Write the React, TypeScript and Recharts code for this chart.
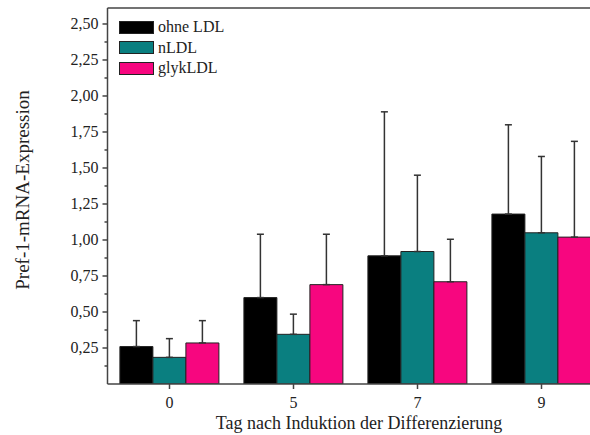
import React from 'react';
import { BarChart, Bar, XAxis, YAxis, ErrorBar, ReferenceLine, Legend } from 'recharts';

const days = ['0', '5', '7', '9'];
const ohneLDL = [0.26, 0.6, 0.89, 1.18];
const ohneLDLErr = [0.18, 0.44, 1.0, 0.62];
const nLDL = [0.185, 0.345, 0.92, 1.05];
const nLDLErr = [0.13, 0.14, 0.53, 0.53];
const glykLDL = [0.285, 0.69, 0.71, 1.02];
const glykLDLErr = [0.155, 0.35, 0.295, 0.665];
const yTicks = [0.125, 0.25, 0.375, 0.5, 0.625, 0.75, 0.875, 1.0, 1.125, 1.25, 1.375, 1.5, 1.625, 1.75, 1.875, 2.0, 2.125, 2.25, 2.375, 2.5];
const Y_MAX = 2.611;

const series = [
  { key: 'ohne', name: 'ohne LDL', color: '#000000' },
  { key: 'nldl', name: 'nLDL', color: '#0a7f80' },
  { key: 'glyk', name: 'glykLDL', color: '#f7067f' },
];

const data = days.map((d, i) => ({
  day: d,
  ohne: ohneLDL[i],
  ohneErr: [0, ohneLDLErr[i]],
  nldl: nLDL[i],
  nldlErr: [0, nLDLErr[i]],
  glyk: glykLDL[i],
  glykErr: [0, glykLDLErr[i]],
}));

const FONT = '"Liberation Serif", "Times New Roman", serif';
const AXIS = '#444';
const TEXT = '#222';

const YTick = (props: any) => {
  const { x, y, payload } = props;
  const q = payload.value / 0.25;
  const major = Math.abs(q - Math.round(q)) < 1e-6;
  return (
    <g>
      <line x1={x - (major ? 5 : 3)} x2={x} y1={y} y2={y} stroke={AXIS} strokeWidth={1.5} />
      {major && (
        <text x={x - 9} y={y + 5.5} textAnchor="end" style={{ fontFamily: FONT, fontSize: 16 }} fill={TEXT}>
          {payload.value.toFixed(2).replace('.', ',')}
        </text>
      )}
    </g>
  );
};

const XTick = (props: any) => {
  const { x, y, payload } = props;
  return (
    <g>
      <line x1={x} x2={x} y1={y} y2={y + 5} stroke={AXIS} strokeWidth={1.5} />
      <text x={x} y={y + 24} textAnchor="middle" style={{ fontFamily: FONT, fontSize: 16 }} fill={TEXT}>
        {payload.value}
      </text>
    </g>
  );
};

const LegendContent = () => (
  <div style={{ fontFamily: FONT, fontSize: 16, color: TEXT, lineHeight: 1 }}>
    {series.map((s) => (
      <div key={s.key} style={{ display: 'flex', alignItems: 'center', height: 20.5 }}>
        <div style={{ width: 33, height: 11, background: s.color, border: '1px solid #222', marginRight: 4 }} />
        <span>{s.name}</span>
      </div>
    ))}
  </div>
);

export default function App() {
  return (
    <div style={{ position: 'absolute', left: 0, top: 0, width: 590, height: 435, overflow: 'hidden', background: '#fff' }}>
      <BarChart
        width={610}
        height={435}
        data={data}
        margin={{ top: 8, right: 6.5, left: 0, bottom: 0 }}
        barCategoryGap="10%"
        barGap={0}
      >
        <XAxis
          dataKey="day"
          height={51}
          tick={<XTick />}
          tickLine={false}
          tickSize={0}
          tickMargin={0}
          axisLine={{ stroke: AXIS, strokeWidth: 1.5 }}
          label={{ value: 'Tag nach Induktion der Differenzierung', position: 'insideBottom', offset: 0, content: () => (
            <text x={359} y={429} textAnchor="middle" style={{ fontFamily: FONT, fontSize: 18 }} fill={TEXT}>Tag nach Induktion der Differenzierung</text>
          ) }}
        />
        <YAxis
          width={107.5}
          domain={[0, Y_MAX]}
          ticks={yTicks}
          interval={0}
          tick={<YTick />}
          tickLine={false}
          tickSize={0}
          tickMargin={0}
          axisLine={{ stroke: AXIS, strokeWidth: 1.5 }}
          allowDataOverflow
          label={{ value: 'Pref-1-mRNA-Expression', content: () => (
            <text x={22} y={190} transform="rotate(-90, 22, 190)" textAnchor="middle" dominantBaseline="central" style={{ fontFamily: FONT, fontSize: 19 }} fill={TEXT}>Pref-1-mRNA-Expression</text>
          ) }}
        />
        <ReferenceLine y={Y_MAX} stroke={AXIS} strokeWidth={1.5} />
        <Legend
          layout="vertical"
          align="center"
          verticalAlign="middle"
          content={<LegendContent />}
          wrapperStyle={{ left: 119, top: 17, width: 150, height: 62 }}
        />
        {series.map((s) => (
          <Bar key={s.key} dataKey={s.key} name={s.name} fill={s.color} stroke="#222" strokeWidth={1} isAnimationActive={false}>
            <ErrorBar dataKey={`${s.key}Err`} direction="y" width={3.5} stroke="#333" strokeWidth={1.5} isAnimationActive={false} />
          </Bar>
        ))}
      </BarChart>
    </div>
  );
}
